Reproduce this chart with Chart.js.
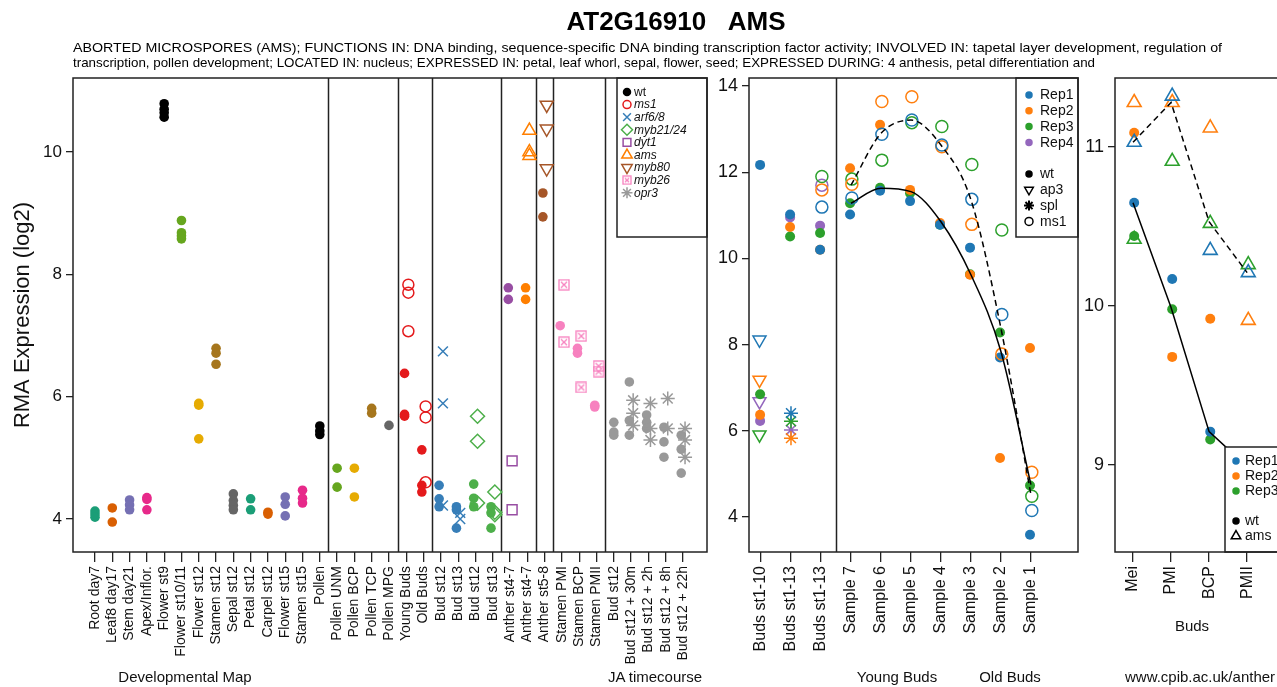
<!DOCTYPE html>
<html lang="en">
<head>
<meta charset="UTF-8">
<title>AT2G16910 AMS</title>
<script src="https://cdn.jsdelivr.net/npm/chart.js"></script>
<style>
    html, body { margin: 0; padding: 0; background: #fff; overflow: hidden; }
    body {
        width: 1277px;
        height: 687px;
        position: relative;
        font-family: 'Liberation Sans', Arial, Helvetica, sans-serif;
        color: #111;
    }
    canvas { position: absolute; top: 0; }
    .group-label {
        position: absolute;
        font-size: 15px;
        white-space: nowrap;
        transform: translateX(-50%);
    }
</style>
</head>
<body>
<canvas id="header" width="1277" height="75" style="left:0"></canvas>
<canvas id="devChart" width="720" height="687" style="left:0"></canvas>
<canvas id="budsChart" width="400" height="687" style="left:690px"></canvas>
<canvas id="meioChart" width="240" height="687" style="left:1080px"></canvas>

<div class="group-label" style="left:185px; top:668px">Developmental Map</div>
<div class="group-label" style="left:655px; top:668px">JA timecourse</div>
<div class="group-label" style="left:897px; top:668px">Young Buds</div>
<div class="group-label" style="left:1010px; top:668px">Old Buds</div>
<div class="group-label" style="left:1192px; top:617px">Buds</div>
<div class="group-label" style="left:1125px; top:668px; transform:none">www.cpib.ac.uk/anther</div>

<script>
const FONT = "'Liberation Sans', Arial, Helvetica, sans-serif";
Chart.defaults.font.family = FONT;
Chart.defaults.color = '#111';
Chart.defaults.animation = false;

// ---------- text ----------
const titleText = 'AT2G16910   AMS';
const subtitleLines = [
    'ABORTED MICROSPORES (AMS); FUNCTIONS IN: DNA binding, sequence-specific DNA binding transcription factor activity; INVOLVED IN: tapetal layer development, regulation of',
    'transcription, pollen development; LOCATED IN: nucleus; EXPRESSED IN: petal, leaf whorl, sepal, flower, seed; EXPRESSED DURING: 4 anthesis, petal differentiation and'
];

// ---------- panel 1: developmental map + JA timecourse ----------
const devCategories = ['Root day7', 'Leaf8 day17', 'Stem day21', 'Apex/Inflor.', 'Flower st9', 'Flower st10/11',
    'Flower st12', 'Stamen st12', 'Sepal st12', 'Petal st12', 'Carpel st12', 'Flower st15', 'Stamen st15', 'Pollen',
    'Pollen UNM', 'Pollen BCP', 'Pollen TCP', 'Pollen MPG', 'Young Buds', 'Old Buds',
    'Bud st12', 'Bud st13', 'Bud st12', 'Bud st13', 'Anther st4-7', 'Anther st4-7', 'Anther st5-8',
    'Stamen PMI', 'Stamen BCP', 'Stamen PMII',
    'Bud st12', 'Bud st12 + 30m', 'Bud st12 + 2h', 'Bud st12 + 8h', 'Bud st12 + 22h'];
const devGroupSizes = [14, 4, 2, 4, 2, 1, 3, 5];
const devYTicks = [4, 6, 8, 10];

// wild type / control replicates per category
const devWt = [
    [4.13, 4.08, 4.03], [4.18, 3.95], [4.31, 4.23, 4.15], [4.35, 4.32, 4.15],
    [10.79, 10.70, 10.64, 10.57], [8.88, 8.68, 8.63, 8.58], [5.89, 5.86, 5.31], [6.79, 6.71, 6.53],
    [4.41, 4.30, 4.22, 4.15], [4.33, 4.15], [4.11, 4.08], [4.36, 4.24, 4.05], [4.47, 4.34, 4.26],
    [5.52, 5.44, 5.38],
    [4.83, 4.52], [4.83, 4.36], [5.81, 5.73], [5.53],
    [6.38, 5.71, 5.68], [5.13, 4.55, 4.44],
    [4.55, 4.33, 4.20], [4.20, 4.15, 3.85], [4.57, 4.34, 4.20], [4.20, 4.10, 3.85],
    [7.78, 7.59], [7.78, 7.59], [9.33, 8.94],
    [7.16], [6.79, 6.71], [5.86, 5.83],
    [5.58, 5.42, 5.37], [6.24, 5.61, 5.37], [5.70, 5.58, 5.48], [5.50, 5.26, 5.01], [5.37, 5.14, 4.75]
];

// mutants: category index + replicate values
const ms1Idx = [18, 19];
const ms1Vals = [[7.83, 7.70, 7.07], [5.84, 5.66, 4.60]];
const arfIdx = [20, 21];
const arfVals = [[6.74, 5.89, 4.22], [4.10, 4.00]];
const mybIdx = [22, 23];
const mybVals = [[5.68, 5.27, 4.26], [4.44, 4.11, 4.07]];
const dytIdx = [24];
const dytVals = [[4.95, 4.15]];
const amsIdx = [25];
const amsVals = [[10.35, 10.00, 9.94]];
const myb80Idx = [26];
const myb80Vals = [[10.77, 10.38, 9.73]];
const myb26Idx = [27, 28, 29];
const myb26Vals = [[7.83, 6.89], [6.99, 6.15], [6.50, 6.41]];
const opr3Idx = [31, 32, 33, 34];
const opr3Vals = [[5.94, 5.73, 5.53], [5.89, 5.48, 5.29], [5.97, 5.48], [5.48, 5.29, 5.01]];

// ---------- panel 2: young / old buds ----------
const budsCategories = ['Buds st1-10', 'Buds st1-13', 'Buds st1-13', 'Sample 7', 'Sample 6', 'Sample 5',
    'Sample 4', 'Sample 3', 'Sample 2', 'Sample 1'];
const budsGroupSizes = [3, 7];
const budsYTicks = [4, 6, 8, 10, 12, 14];
const budsWtRep1 = [12.17, 11.02, 10.20, 11.02, 11.57, 11.33, 10.78, 10.25, 7.70, 3.59];
const budsWtRep2 = [6.37, 10.73, 10.20, 12.09, 13.10, 11.59, 10.82, 9.62, 5.37, 7.92];
const budsWtRep3 = [6.85, 10.51, 10.59, 11.28, 11.64, 11.51, 10.78, 9.63, 8.28, 4.73];
const budsWtRep4 = [6.23, 10.95, 10.76, null, null, null, null, null, null, null];
const budsAp3 = [8.11, 7.18, 5.91, 6.68];   // Buds st1-10, Rep1..Rep4
const budsSpl = [6.41, 5.83, 6.22, 6.02];   // Buds st1-13, Rep1..Rep4
const budsMs1Rep1 = [null, null, 11.19, 11.40, 12.88, 13.21, 12.63, 11.37, 8.70, 4.15];
const budsMs1Rep2 = [null, null, 11.59, 11.72, 13.64, 13.75, 12.59, 10.79, 7.78, 5.04];
const budsMs1Rep3 = [null, null, 11.90, 11.84, 12.28, 13.15, 13.06, 12.18, 10.66, 4.48];
const budsMs1Rep4 = [null, null, 11.70, null, null, null, null, null, null, null];
const budsWtTrend = [null, null, null, 11.28, 11.63, 11.55, 10.85, 9.62, 7.84, 4.75];
const budsMs1Trend = [null, null, null, 11.70, 12.90, 13.21, 12.63, 11.36, 8.38, 4.52];

// ---------- panel 3: meiosis buds ----------
const meioCategories = ['Mei', 'PMI', 'BCP', 'PMII'];
const meioYTicks = [9, 10, 11];
const meioWtRep1 = [10.65, 10.17, 9.21, null];
const meioWtRep2 = [11.09, 9.68, 9.92, null];
const meioWtRep3 = [10.44, 9.98, 9.16, null];
const meioAmsRep1 = [11.03, 11.32, 10.35, 10.21];
const meioAmsRep2 = [11.28, 11.28, 11.12, 9.91];
const meioAmsRep3 = [10.42, 10.91, 10.52, 10.26];
const meioWtTrend = [10.65, 9.99, 9.21, 8.99];
const meioAmsTrend = [11.03, 11.28, 10.53, 10.21];

// ---------- styles ----------
const devPalette = ['#1B9E77', '#D95F02', '#7570B3', '#E7298A', '#000000', '#66A61E', '#E6AB02', '#A6761D', '#666666'];
const lateColors = ['#E41A1C', '#E41A1C', '#377EB8', '#377EB8', '#4DAF4A', '#4DAF4A', '#984EA3', '#FF7F00',
    '#A65628', '#F781BF', '#F781BF', '#F781BF', '#999999', '#999999', '#999999', '#999999', '#999999'];
const repColors = ['#1F77B4', '#FF7F0E', '#2CA02C', '#9467BD'];
const LINE = '#222';

function boxedX(color, size) {
    const c = document.createElement('canvas');
    c.width = size; c.height = size;
    const x = c.getContext('2d');
    x.strokeStyle = color; x.lineWidth = 1.3;
    x.strokeRect(1, 1, size - 2, size - 2);
    x.beginPath();
    x.moveTo(3, 3); x.lineTo(size - 3, size - 3);
    x.moveTo(size - 3, 3); x.lineTo(3, size - 3);
    x.stroke();
    return c;
}

const mutantStyle = {
    ms1:   { color: '#E41A1C', pointStyle: 'circle', radius: 5.5 },
    arf:   { color: '#377EB8', pointStyle: 'crossRot', radius: 7 },
    myb:   { color: '#4DAF4A', pointStyle: 'rectRot', radius: 7 },
    dyt:   { color: '#984EA3', pointStyle: 'rect', radius: 7 },
    ams:   { color: '#FF7F00', pointStyle: 'triangle', radius: 7.5 },
    myb80: { color: '#A65628', pointStyle: 'triangle', radius: 7.5, rotation: 180 },
    myb26: { color: '#F781BF', pointStyle: boxedX('#F781BF', 12), radius: 6 },
    opr3:  { color: '#999999', pointStyle: 'star', radius: 7 }
};
const devMutants = [
    ['ms1', ms1Idx, ms1Vals], ['arf', arfIdx, arfVals], ['myb', mybIdx, mybVals], ['dyt', dytIdx, dytVals],
    ['ams', amsIdx, amsVals], ['myb80', myb80Idx, myb80Vals], ['myb26', myb26Idx, myb26Vals], ['opr3', opr3Idx, opr3Vals]
];

// panel decorations (kept out of Chart.js options so nothing gets proxied)
const panelSpecs = {
    devChart: {
        groups: devGroupSizes,
        legend: {
            width: 90, height: 159, pad: 14, row: 12.6, mx: 10, tx: 17, font: 12,
            items: [
                { label: 'wt', style: 'circle', color: '#000', r: 3.5, fill: true },
                { label: 'ms1', style: 'circle', color: '#E41A1C', r: 4, italic: true },
                { label: 'arf6/8', style: 'crossRot', color: '#377EB8', r: 5.5, italic: true },
                { label: 'myb21/24', style: 'rectRot', color: '#4DAF4A', r: 5.5, italic: true },
                { label: 'dyt1', style: 'rect', color: '#984EA3', r: 5.5, italic: true },
                { label: 'ams', style: 'triangle', color: '#FF7F00', r: 6, italic: true },
                { label: 'myb80', style: 'triangle', rot: 180, color: '#A65628', r: 6, italic: true },
                { label: 'myb26', style: boxedX('#F781BF', 10), color: '#F781BF', r: 5, italic: true },
                { label: 'opr3', style: 'star', color: '#999999', r: 5.5, italic: true }
            ]
        }
    },
    budsChart: {
        groups: budsGroupSizes,
        legend: {
            width: 62, height: 159, pad: 17, row: 15.8, mx: 13, tx: 24, font: 14,
            items: [
                { label: 'Rep1', style: 'circle', color: repColors[0], r: 3, fill: true },
                { label: 'Rep2', style: 'circle', color: repColors[1], r: 3, fill: true },
                { label: 'Rep3', style: 'circle', color: repColors[2], r: 3, fill: true },
                { label: 'Rep4', style: 'circle', color: repColors[3], r: 3, fill: true },
                null,
                { label: 'wt', style: 'circle', color: '#000', r: 3, fill: true },
                { label: 'ap3', style: 'triangle', rot: 180, color: '#000', r: 5 },
                { label: 'spl', style: 'star', color: '#000', r: 5, lw: 2 },
                { label: 'ms1', style: 'circle', color: '#000', r: 4 }
            ]
        }
    },
    meioChart: {
        groups: [],
        legend: {
            left: 110, bottomAligned: true, width: 120, height: 105, pad: 14, row: 15, mx: 11, tx: 20, font: 14,
            items: [
                { label: 'Rep1', style: 'circle', color: repColors[0], r: 3, fill: true },
                { label: 'Rep2', style: 'circle', color: repColors[1], r: 3, fill: true },
                { label: 'Rep3', style: 'circle', color: repColors[2], r: 3, fill: true },
                null,
                { label: 'wt', style: 'circle', color: '#000', r: 3, fill: true },
                { label: 'ams', style: 'triangle', color: '#000', r: 5.5 }
            ]
        }
    }
};

// ---------- plugin: frame, separators, legend ----------
function drawMarker(ctx, it, x, y) {
    ctx.save();
    ctx.strokeStyle = it.color;
    ctx.fillStyle = it.fill ? it.color : 'rgba(0,0,0,0)';
    ctx.lineWidth = it.lw || 1.5;
    Chart.helpers.drawPoint(ctx, { pointStyle: it.style, radius: it.r, rotation: it.rot || 0, borderWidth: ctx.lineWidth }, x, y);
    ctx.restore();
}

const panelPlugin = {
    id: 'panel',
    beforeDatasetsDraw(chart) {
        const spec = panelSpecs[chart.canvas.id];
        const { ctx, chartArea: a, scales: { x } } = chart;
        ctx.save();
        ctx.strokeStyle = LINE;
        ctx.lineWidth = 1.5;
        let pos = 0;
        spec.groups.slice(0, -1).forEach(n => {
            pos += n;
            const px = Math.round(x.getPixelForValue(pos - 0.5)) + 0.5;
            ctx.beginPath(); ctx.moveTo(px, a.top); ctx.lineTo(px, a.bottom); ctx.stroke();
        });
        ctx.restore();
    },
    afterDraw(chart) {
        const spec = panelSpecs[chart.canvas.id];
        const { ctx, chartArea: a } = chart;
        const lg = spec.legend;
        const bx = lg.left != null ? a.left + lg.left : a.right - lg.width;
        const by = lg.bottomAligned ? a.bottom - lg.height : a.top;
        ctx.save();
        ctx.fillStyle = '#fff';
        ctx.fillRect(bx, by, lg.width, lg.height);
        ctx.strokeStyle = LINE; ctx.lineWidth = 1.5;
        ctx.strokeRect(bx, by, lg.width, lg.height);
        ctx.textBaseline = 'middle';
        lg.items.forEach((it, i) => {
            if (!it) return;
            const y = by + lg.pad + i * lg.row;
            drawMarker(ctx, it, bx + lg.mx, y);
            ctx.fillStyle = '#111';
            ctx.font = (it.italic ? 'italic ' : '') + lg.font + 'px ' + FONT;
            ctx.fillText(it.label, bx + lg.tx, y + 0.5);
        });
        ctx.strokeStyle = LINE; ctx.lineWidth = 1.5;
        ctx.strokeRect(a.left, a.top, a.right - a.left, a.bottom - a.top);
        ctx.restore();
    }
};
Chart.register(panelPlugin);

function makeScales(o) {
    return {
        x: {
            type: 'linear', min: o.xmin, max: o.xmax,
            afterBuildTicks: s => { s.ticks = o.labels.map((_, i) => ({ value: i })); },
            afterFit: s => { s.height = o.xh; },
            grid: { drawOnChartArea: false, drawTicks: true, tickLength: 10, tickColor: LINE, lineWidth: 1.3 },
            border: { display: false },
            ticks: {
                autoSkip: false, maxRotation: 90, minRotation: 90, padding: 4, color: '#111',
                font: { size: o.xfont }, callback: v => o.labels[v]
            }
        },
        y: {
            type: 'linear', min: o.ymin, max: o.ymax,
            afterBuildTicks: s => { s.ticks = o.yticks.map(v => ({ value: v })); },
            afterFit: s => { s.width = o.yw; },
            grid: { drawOnChartArea: false, drawTicks: true, tickLength: 7, tickColor: LINE, lineWidth: 1.3 },
            border: { display: false },
            ticks: { padding: 4, color: '#111', font: { size: o.yfont }, callback: v => String(v) },
            title: o.ytitle ? { display: true, text: o.ytitle, color: '#111', font: { size: 22 }, padding: { top: 10, bottom: 0 } } : { display: false }
        }
    };
}

const baseOptions = (pad, scales) => ({
    responsive: false,
    animation: false,
    layout: { padding: pad },
    plugins: { legend: { display: false }, tooltip: { enabled: false } },
    scales
});

// ---------- chart 1 ----------
const mutantCats = new Set(devMutants.flatMap(m => m[1]));
const devDatasets = [];
devMutants.forEach(([key, idxs, vals]) => {
    const st = mutantStyle[key];
    const open = ['circle', 'rectRot', 'rect', 'triangle'].includes(st.pointStyle);
    devDatasets.push({
        data: idxs.flatMap((c, k) => vals[k].map(v => ({ x: c + 0.12, y: v }))),
        pointStyle: st.pointStyle, radius: st.radius, rotation: st.rotation || 0,
        borderColor: st.color, backgroundColor: open ? 'rgba(0,0,0,0)' : st.color, borderWidth: 1.5
    });
});
const wtPoints = [], wtColors = [];
devWt.forEach((vals, i) => {
    const col = i < 18 ? devPalette[i % 9] : lateColors[i - 18];
    vals.forEach(v => {
        wtPoints.push({ x: i + (mutantCats.has(i) ? -0.1 : 0), y: v });
        wtColors.push(col);
    });
});
devDatasets.push({
    data: wtPoints, pointStyle: 'circle', radius: 4.8,
    backgroundColor: wtColors, borderColor: wtColors, borderWidth: 0
});

new Chart(document.getElementById('devChart'), {
    type: 'scatter',
    data: { datasets: devDatasets },
    options: baseOptions({ top: 78, right: 13, left: 0, bottom: 0 },
        makeScales({ labels: devCategories, xmin: -1.272, xmax: 35.39, xh: 135, xfont: 14,
            ymin: 3.46, ymax: 11.21, yticks: devYTicks, yw: 73, yfont: 17, ytitle: 'RMA Expression (log2)' }))
});

// ---------- chart 2 ----------
function catPoints(values, offset) {
    return values.map((v, i) => v == null ? null : { x: i + (offset || 0), y: v }).filter(p => p);
}
const budsDatasets = [
    { type: 'line', data: catPoints(budsWtTrend), borderColor: '#000', borderWidth: 1.5, pointRadius: 0, cubicInterpolationMode: 'monotone' },
    { type: 'line', data: catPoints(budsMs1Trend), borderColor: '#000', borderWidth: 1.5, borderDash: [6, 4], pointRadius: 0, cubicInterpolationMode: 'monotone' }
];
[budsMs1Rep1, budsMs1Rep2, budsMs1Rep3, budsMs1Rep4].forEach((vals, r) => {
    budsDatasets.push({ data: catPoints(vals, 0.03), pointStyle: 'circle', radius: 6, borderWidth: 1.5,
        borderColor: repColors[r], backgroundColor: 'rgba(0,0,0,0)' });
});
[budsWtRep1, budsWtRep2, budsWtRep3, budsWtRep4].forEach((vals, r) => {
    budsDatasets.push({ data: catPoints(vals, -0.03), pointStyle: 'circle', radius: 5, borderWidth: 0,
        borderColor: repColors[r], backgroundColor: repColors[r] });
});
budsAp3.forEach((v, r) => {
    budsDatasets.push({ data: [{ x: -0.05, y: v }], pointStyle: 'triangle', rotation: 180, radius: 7.5, borderWidth: 1.5,
        borderColor: repColors[r], backgroundColor: 'rgba(0,0,0,0)' });
});
budsSpl.forEach((v, r) => {
    budsDatasets.push({ data: [{ x: 1, y: v }], pointStyle: 'star', radius: 7, borderWidth: 1.5,
        borderColor: repColors[r], backgroundColor: repColors[r] });
});

new Chart(document.getElementById('budsChart'), {
    type: 'scatter',
    data: { datasets: budsDatasets },
    options: baseOptions({ top: 78, right: 12, left: 0, bottom: 0 },
        makeScales({ labels: budsCategories, xmin: -0.4, xmax: 10.57, xh: 135, xfont: 16,
            ymin: 3.188, ymax: 14.186, yticks: budsYTicks, yw: 59, yfont: 18 }))
});

// ---------- chart 3 ----------
const meioDatasets = [
    { type: 'line', data: catPoints(meioWtTrend), borderColor: '#000', borderWidth: 1.5, pointRadius: 0 },
    { type: 'line', data: catPoints(meioAmsTrend), borderColor: '#000', borderWidth: 1.5, borderDash: [6, 4], pointRadius: 0 }
];
[meioAmsRep1, meioAmsRep2, meioAmsRep3].forEach((vals, r) => {
    meioDatasets.push({ data: catPoints(vals, 0.03), pointStyle: 'triangle', radius: 8, borderWidth: 1.6,
        borderColor: repColors[r], backgroundColor: 'rgba(0,0,0,0)' });
});
[meioWtRep1, meioWtRep2, meioWtRep3].forEach((vals, r) => {
    meioDatasets.push({ data: catPoints(vals, 0.03), pointStyle: 'circle', radius: 5, borderWidth: 0,
        borderColor: repColors[r], backgroundColor: repColors[r] });
});

new Chart(document.getElementById('meioChart'), {
    type: 'scatter',
    data: { datasets: meioDatasets },
    options: baseOptions({ top: 78, right: 20, left: 0, bottom: 0 },
        makeScales({ labels: meioCategories, xmin: -0.474, xmax: 4.39, xh: 135, xfont: 16,
            ymin: 8.453, ymax: 11.434, yticks: meioYTicks, yw: 35, yfont: 18 }))
});

// ---------- header ----------
const hctx = document.getElementById('header').getContext('2d');
hctx.fillStyle = '#000';
hctx.textAlign = 'center';
hctx.font = 'bold 26px ' + FONT;
hctx.fillText(titleText, 676, 30);
hctx.textAlign = 'left';
hctx.font = '13.5px ' + FONT;
const subtitleWidths = [1149, 1022];
subtitleLines.forEach((t, i) => {
    const sx = subtitleWidths[i] / hctx.measureText(t).width;
    hctx.save();
    hctx.translate(73, 52 + i * 15);
    hctx.scale(sx, 1);
    hctx.fillText(t, 0, 0);
    hctx.restore();
});
</script>
</body>
</html>
